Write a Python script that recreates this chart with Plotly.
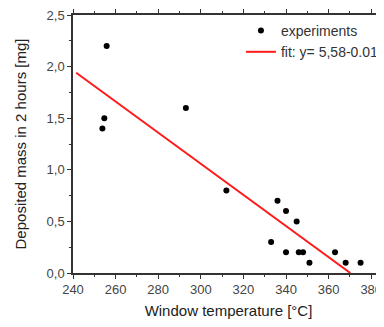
import plotly.graph_objects as go

# Experimental data
temp_c = [253.8, 254.7, 255.8, 293, 312, 333, 336, 340, 340, 345, 346, 348, 351, 363, 368, 375]
mass_mg = [1.4, 1.5, 2.2, 1.6, 0.8, 0.3, 0.7, 0.6, 0.2, 0.5, 0.2, 0.2, 0.1, 0.2, 0.1, 0.1]

# Linear fit endpoints (y = 5,58 - 0.0151 x)
fit_x = [241.5, 370.2]
fit_y = [1.94, 0.0]

x_range = [240, 386]

fig = go.Figure()
fig.add_trace(go.Scatter(x=temp_c, y=mass_mg, mode="markers", name="experiments",
                         marker=dict(color="black", size=6)))
fig.add_trace(go.Scatter(x=fit_x, y=fit_y, mode="lines", name="fit: y= 5,58-0.0151x",
                         line=dict(color="#ff1a1a", width=2)))

font = "Liberation Sans, Arial, sans-serif"
fig.update_layout(
    width=384, height=311,
    margin=dict(l=65, r=8, t=7, b=46, autoexpand=False),
    paper_bgcolor="white", plot_bgcolor="white",
    separators=",.",
    font=dict(family=font, size=13, color="#333"),
    showlegend=True,
    legend=dict(x=0.54, y=1.0, xanchor="left", yanchor="top",
                bgcolor="rgba(0,0,0,0)", font=dict(size=14, color="#333"),
                tracegroupgap=0, itemwidth=30),
    xaxis=dict(range=x_range, dtick=20, showgrid=False, zeroline=False,
               showline=True, linecolor="#333", linewidth=1.5, mirror="ticks",
               ticks="outside", ticklen=4, tickcolor="#333",
               ticklabeloverflow="allow",
               minor=dict(dtick=10, ticks="outside", ticklen=2, tickcolor="#333"),
               title=dict(text="Window temperature [°C]", font=dict(size=15, color="#222"), standoff=12),
               tickfont=dict(size=13, color="#444")),
    yaxis=dict(range=[0, 2.5], dtick=0.5, tickformat=".1f", showgrid=False, zeroline=False,
               showline=True, linecolor="#333", linewidth=1.5,
               ticks="outside", ticklen=4, tickcolor="#333",
               ticklabeloverflow="allow",
               minor=dict(dtick=0.25, ticks="outside", ticklen=2, tickcolor="#333"),
               title=dict(text="Deposited mass in 2 hours [mg]", font=dict(size=15, color="#222"), standoff=16),
               tickfont=dict(size=13, color="#444")),
)
fig.write_html("out.html")
